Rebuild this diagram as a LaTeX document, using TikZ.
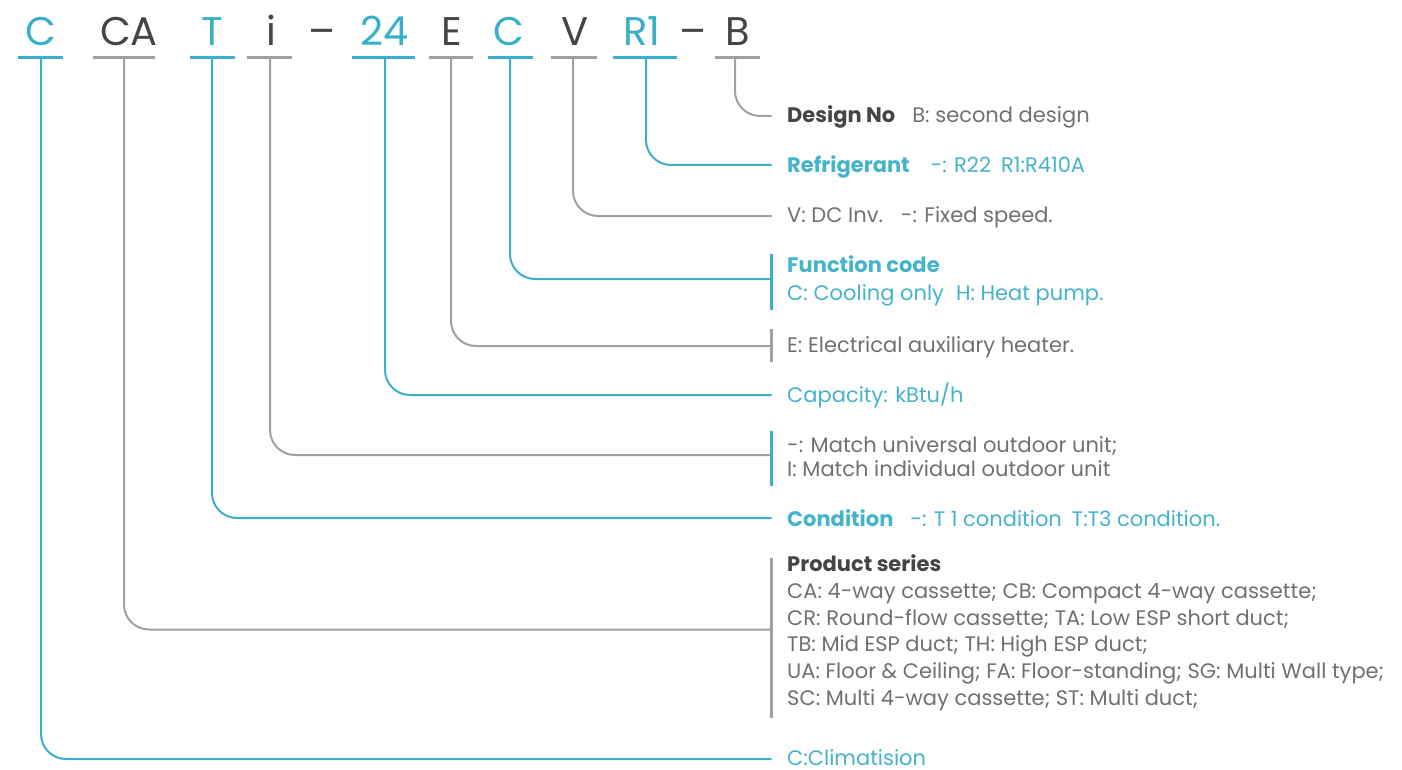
\documentclass[tikz,border=0pt]{standalone}
\usepackage{fontspec}
\setmainfont{Poppins}
\definecolor{cblue}{HTML}{3AAFC9}
\definecolor{lgray}{HTML}{A0A0A0}
\definecolor{dgray}{HTML}{454545}
\definecolor{tgray}{HTML}{707070}
\definecolor{tblue}{HTML}{45B3CB}
\begin{document}
\begin{tikzpicture}[x=1pt,y=-1pt,
  code/.style={anchor=base,inner sep=0pt,font=\fontsize{40}{48}\selectfont},
  cb/.style={code,text=cblue},
  cg/.style={code,text=dgray},
  ublue/.style={cblue,line width=3pt},
  ugray/.style={lgray,line width=3pt},
  bline/.style={cblue,line width=2pt,rounded corners=25pt},
  gline/.style={lgray,line width=2pt,rounded corners=25pt},
  bbar/.style={cblue,line width=2.5pt},
  gbar/.style={lgray,line width=2.5pt},
  lab/.style={anchor=base west,inner sep=0pt,font=\fontsize{21}{25}\selectfont},
  labb/.style={lab,text=tblue},
  labg/.style={lab,text=tgray},
  ttl/.style={font=\fontsize{21}{25}\selectfont\bfseries}
]
\useasboundingbox (0,0) rectangle (1402,770);
% code letters
\node[cb] (kC)  at (41,46)  {C};
\node[cg] (kCA) at (129,46) {CA};
\node[cb] (kT)  at (212,46) {T};
\node[cg] (ki)  at (271,46) {i};
\node[cg] (kd1) at (322,46) {--};
\node[cb] (k24) at (385,46) {24};
\node[cg] (kE)  at (452,46) {E};
\node[cb] (kC2) at (509,46) {C};
\node[cg] (kV)  at (575,46) {V};
\node[cb] (kR)  at (642,46) {R1};
\node[cg] (kd2) at (693,46) {--};
\node[cg] (kB)  at (738,46) {B};
% underlines
\draw[ublue] (18,57.5) -- (63,57.5);
\draw[ugray] (93,57.5) -- (155,57.5);
\draw[ublue] (190,57.5) -- (235,57.5);
\draw[ugray] (247,57.5) -- (292,57.5);
\draw[ublue] (352,57.5) -- (415,57.5);
\draw[ugray] (429,57.5) -- (473,57.5);
\draw[ublue] (488,57.5) -- (533,57.5);
\draw[ugray] (551,57.5) -- (597,57.5);
\draw[ublue] (613,57.5) -- (677,57.5);
\draw[ugray] (715,57.5) -- (760,57.5);
% connector start points
\coordinate (uC)  at (41,57.5);
\coordinate (uCA) at (124,57.5);
\coordinate (uT)  at (212,57.5);
\coordinate (ui)  at (270,57.5);
\coordinate (u24) at (385,57.5);
\coordinate (uE)  at (451,57.5);
\coordinate (uC2) at (510,57.5);
\coordinate (uV)  at (573,57.5);
\coordinate (uR)  at (646,57.5);
\coordinate (uB)  at (735,57.5);
% connector end points
\coordinate (eB)  at (771.5,116);
\coordinate (eR)  at (771.5,165);
\coordinate (eV)  at (771.5,216);
\coordinate (eC2) at (771.5,279);
\coordinate (eE)  at (771.5,346);
\coordinate (e24) at (771.5,395);
\coordinate (ei)  at (771.5,455);
\coordinate (eT)  at (771.5,518);
\coordinate (eCA) at (771.5,629.5);
\coordinate (eC)  at (771.5,759);
% connectors
\draw[gline] (uB)  |- (eB);
\draw[bline] (uR)  |- (eR);
\draw[gline] (uV)  |- (eV);
\draw[bline] (uC2) |- (eC2);
\draw[gline] (uE)  |- (eE);
\draw[bline] (u24) |- (e24);
\draw[gline] (ui)  |- (ei);
\draw[bline] (uT)  |- (eT);
\draw[gline] (uCA) |- (eCA);
\draw[bline] (uC)  |- (eC);
% bracket bars
\draw[bbar] (771.5,254) -- (771.5,310);
\draw[gbar] (771.5,329) -- (771.5,362);
\draw[bbar] (771.5,431) -- (771.5,486);
\draw[gbar] (771.5,558) -- (771.5,718);
% labels
\node[labg] (lB) at (787,122.5) {{\color{dgray}\bfseries Design No}\hspace{17pt}B: second design};
\node[labb] (lR) at (787,172.5) {{\bfseries Refrigerant}\hspace{21pt}-: R22\hspace{10pt}R1:R410A};
\node[labg] (lV) at (787,222.5) {V: DC Inv.\hspace{18pt}-: Fixed speed.};
\node[labb,ttl] (lC2a) at (787,272.5) {Function code};
\node[labb] (lC2b) at (787,300.5) {C: Cooling only\hspace{12pt}H: Heat pump.};
\node[labg] (lE) at (787,352.5) {E: Electrical auxiliary heater.};
\node[labb] (l24) at (787,402.5) {Capacity: kBtu/h};
\node[labg] (lia) at (787,452.5) {-: Match universal outdoor unit;};
\node[labg] (lib) at (787,476.5) {I: Match individual outdoor unit};
\node[labb] (lT) at (787,526) {{\bfseries Condition}\hspace{17pt}-: T 1 condition\hspace{10pt}T:T3 condition.};
\node[labg,ttl,text=dgray] (lCA0) at (787,571.7) {Product series};
\node[labg] (lCA1) at (787,598.3) {CA: 4-way cassette; CB: Compact 4-way cassette;};
\node[labg] (lCA2) at (787,625) {CR: Round-flow cassette; TA: Low ESP short duct;};
\node[labg] (lCA3) at (787,651.7) {TB: Mid ESP duct; TH: High ESP duct;};
\node[labg] (lCA4) at (787,678.3) {UA: Floor \& Ceiling; FA: Floor-standing; SG: Multi Wall type;};
\node[labg] (lCA5) at (787,705) {SC: Multi 4-way cassette; ST: Multi duct;};
\node[labb] (lC) at (787,765) {C:Climatision};
\end{tikzpicture}
\end{document}
